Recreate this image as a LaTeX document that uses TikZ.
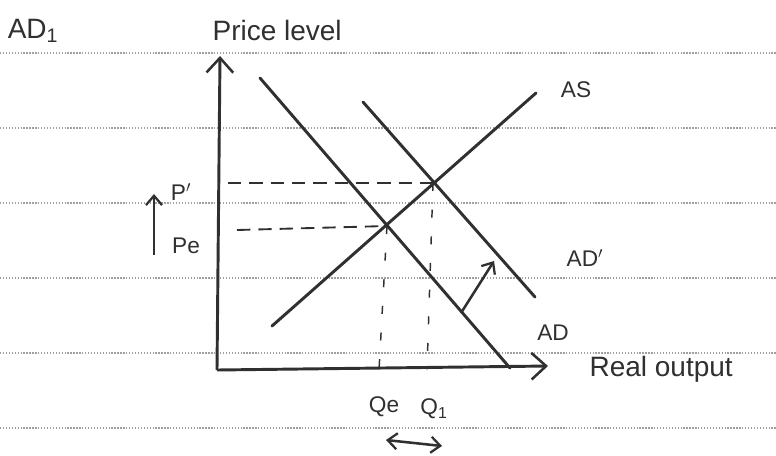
\documentclass[tikz,border=0pt]{standalone}
\usepackage{fontspec}
\setmainfont{Liberation Sans}
\usetikzlibrary{arrows.meta}
\definecolor{ink}{HTML}{303030}
\definecolor{rule}{HTML}{A0A0A0}
\begin{document}
\begin{tikzpicture}[x=0.75pt,y=-0.75pt,
  curve/.style={draw=ink,line width=2.2pt,line cap=round},
  axis/.style={draw=ink,line width=2.2pt,-{Straight Barb[length=11pt,width=20pt,line width=1.9pt]}},
  guide/.style={draw=ink,line width=1.4pt,dash pattern=on 10pt off 6pt},
  vguide/.style={draw=ink,line width=1.1pt,dash pattern=on 6pt off 14pt},
  ruled/.style={draw=rule,line width=0.8pt,dash pattern=on 1pt off 1.2pt},
  lab/.style={text=ink,font=\fontsize{17}{19}\selectfont,inner sep=1pt},
  biglab/.style={text=ink,font=\fontsize{21}{24}\selectfont,inner sep=1pt},
  harrow/.style={draw=ink,line width=1.9pt,-{Straight Barb[length=7pt,width=12pt,line width=1.7pt]}}]
\useasboundingbox (0,0) rectangle (776,455);
\fill[white] (0,0) rectangle (776,455);
% ruled paper lines
\foreach \yy in {53,128,203,278,353,428}
  \draw[ruled] (0,\yy) -- (776,\yy);
% axes
\coordinate (O) at (217,370);
\coordinate (Ytop) at (220,56);
\coordinate (Xend) at (548,366);
\draw[axis] (O) -- (Ytop);
\draw[axis] (O) -- (Xend);
% curves
\coordinate (ad1) at (260,78);
\coordinate (ad2) at (510,368);
\coordinate (adp1) at (363,102);
\coordinate (adp2) at (535,297);
\coordinate (as1) at (272,326);
\coordinate (as2) at (536,93);
\draw[curve] (ad1) -- (ad2);
\draw[curve] (adp1) -- (adp2);
\draw[curve] (as1) -- (as2);
% equilibrium points
\coordinate (E0) at (387,226);
\coordinate (E1) at (433,183);
\coordinate (pe0) at (237,230);
\coordinate (p10) at (228,183);
\coordinate (qe0) at (379,370);
\coordinate (q10) at (427,370);
\draw[guide] (p10) -- (E1);
\draw[guide] (pe0) -- (E0);
\draw[vguide] (E0) -- (qe0);
\draw[vguide] (E1) -- (q10);
% shift arrow
\coordinate (sh1) at (461,313);
\coordinate (sh2) at (494,261);
\draw[harrow] (sh1) -- (sh2);
% price rise arrow
\coordinate (pu1) at (154,255);
\coordinate (pu2) at (154,194);
\draw[harrow] (pu1) -- (pu2);
% output change double arrow
\coordinate (qa1) at (386,440);
\coordinate (qa2) at (442,446);
\draw[harrow,{Straight Barb[length=7pt,width=12pt,line width=1.7pt]}-{Straight Barb[length=7pt,width=12pt,line width=1.7pt]}] (qa1) -- (qa2);
% labels
\node[biglab] (tAD1) at (33,31) {AD\textsubscript{1}};
\node[biglab,anchor=west] (tPrice) at (211,30) {Price level};
\node[lab] (tAS) at (576,90) {AS};
\node[lab] (tADp) at (585,258) {AD$'$};
\node[lab] (tAD) at (553,333) {AD};
\node[biglab,anchor=west] (tReal) at (588,369) {Real output};
\node[lab] (tP1) at (181,192) {P$'$};
\node[lab] (tPe) at (186,246) {Pe};
\node[lab] (tQe) at (384,407) {Qe};
\node[lab] (tQ1) at (434,409) {Q\textsubscript{1}};
\end{tikzpicture}
\end{document}
